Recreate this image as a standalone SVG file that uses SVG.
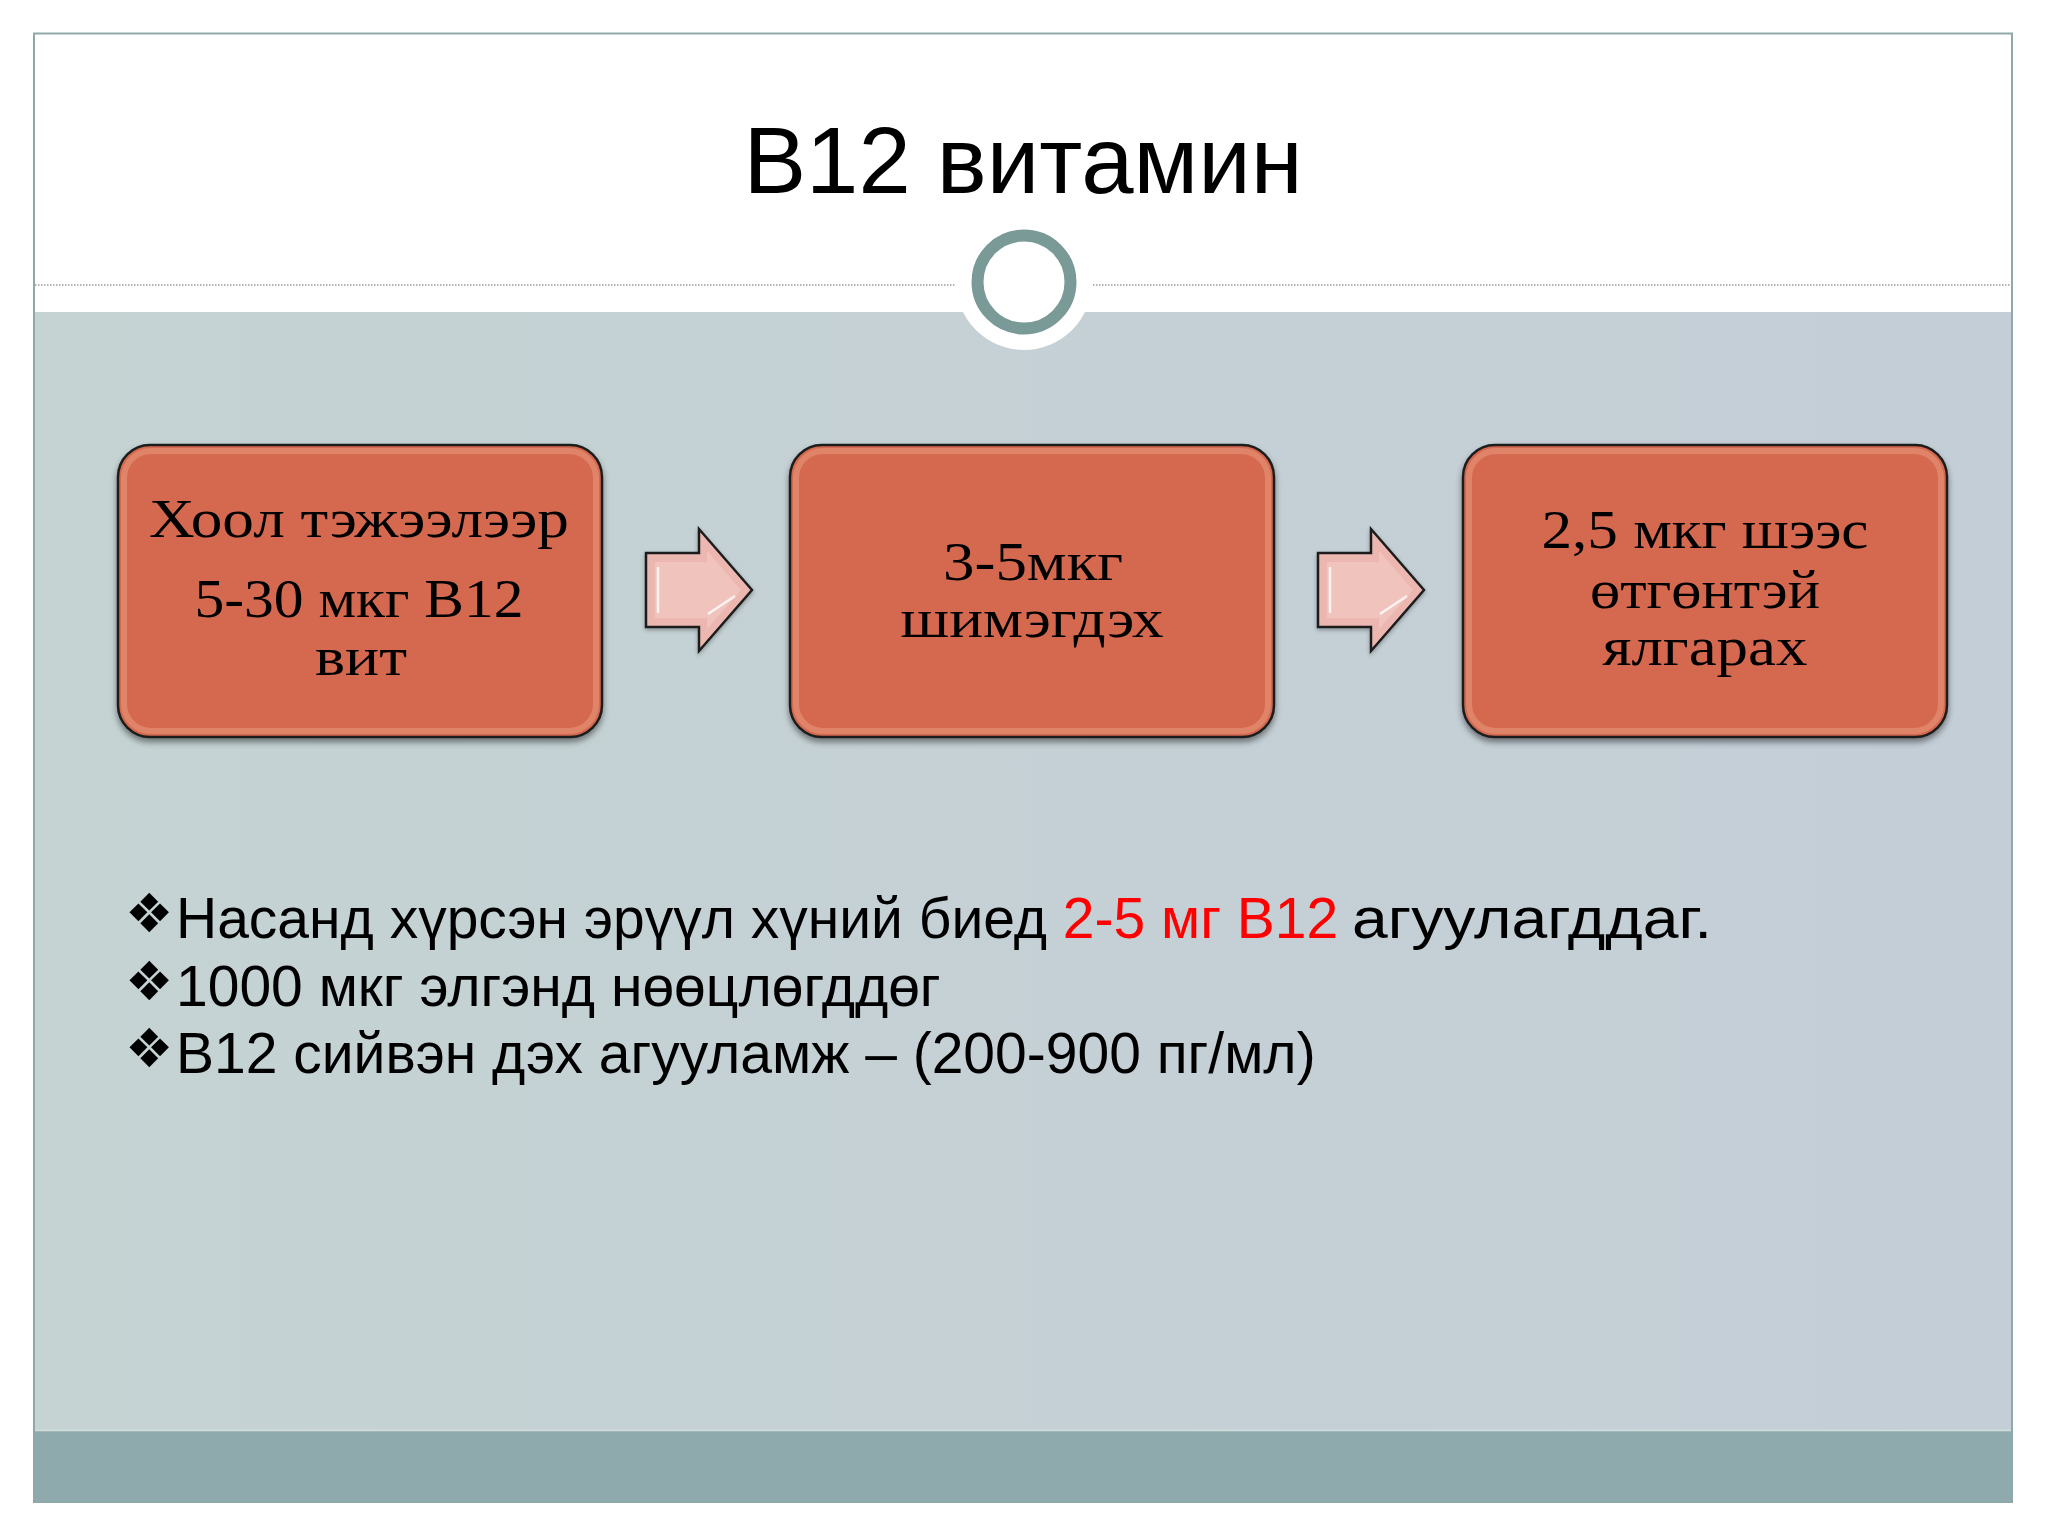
<svg xmlns="http://www.w3.org/2000/svg" width="2048" height="1536" viewBox="0 0 2048 1536">
<defs>
<linearGradient id="bg" x1="0" y1="0" x2="1" y2="0">
<stop offset="0" stop-color="#C5D3D3"/>
<stop offset="1" stop-color="#C4CED7"/>
</linearGradient>
<linearGradient id="hl" x1="0" y1="0" x2="0" y2="1">
<stop offset="0" stop-color="#FFFFFF" stop-opacity="0"/>
<stop offset="0.12" stop-color="#FFFFFF" stop-opacity="0.9"/>
<stop offset="0.88" stop-color="#FFFFFF" stop-opacity="0.9"/>
<stop offset="1" stop-color="#FFFFFF" stop-opacity="0"/>
</linearGradient>
<filter id="sh" x="-10%" y="-10%" width="120%" height="130%">
<feDropShadow dx="0" dy="4" stdDeviation="3" flood-color="#000" flood-opacity="0.45"/>
</filter>
<filter id="ash" x="-20%" y="-20%" width="140%" height="140%">
<feDropShadow dx="0" dy="2" stdDeviation="2" flood-color="#000" flood-opacity="0.3"/>
</filter>
</defs>
<style>
.box{fill:#D5694F;stroke:#1E1E1E;stroke-width:2.5}
.bevel{fill:none;stroke:#E89A80;stroke-width:6;opacity:0.55}
.hline{stroke:url(#hl);stroke-width:4;stroke-linecap:round}
.bt{font-family:"Liberation Serif","Times New Roman",serif;font-size:55px;fill:#000;text-anchor:middle}
.arrow{fill:#ECB7B0;stroke:#1E1E1E;stroke-width:2.5;stroke-linejoin:miter}
.ain{fill:#F0C3BD;stroke:none}
.bul{font-family:"Liberation Sans",Arial,sans-serif;font-size:57px;fill:#000}
.dia{font-family:"DejaVu Sans",sans-serif;font-size:54px;fill:#000}
.red{fill:#FF0000}
.dot{stroke:#9A9A9A;stroke-width:1.5;stroke-dasharray:1.5 1.5}
</style>

<!-- slide background -->
<rect x="0" y="0" width="2048" height="1536" fill="#FFFFFF"/>
<rect x="34" y="312" width="1978" height="1118" fill="url(#bg)"/>
<rect x="34" y="1430" width="1978" height="72" fill="#8EAAAD"/>
<line x1="34" y1="1430.5" x2="2012" y2="1430.5" stroke="#D5DEDF" stroke-width="1.5"/>
<rect x="34" y="33.5" width="1978" height="1468.5" fill="none" stroke="#8FA9A7" stroke-width="2"/>
<line class="dot" x1="35" y1="285" x2="955" y2="285"/>
<line class="dot" x1="1093" y1="285" x2="2011" y2="285"/>
<circle cx="1024" cy="282" r="68" fill="#FFFFFF"/>
<circle cx="1024" cy="282" r="46.5" fill="#FFFFFF" stroke="#7A9A98" stroke-width="12"/>

<text x="1023" y="193" text-anchor="middle" font-family="'Liberation Sans',Arial,sans-serif" font-size="94" fill="#000">B12 витамин</text>

<g id="connectors">
<g id="arrow1" filter="url(#ash)">
<polygon class="arrow" points="646,553 699,553 699,529 752,590 699,651 699,627 646,627"/>
<polygon class="ain" points="655,562 707,562 707,551 741,590 707,629 707,618 655,618"/>
<line x1="658" y1="567" x2="658" y2="613" stroke="#FFFFFF" stroke-width="2.5" opacity="0.8"/>
<line x1="708" y1="614" x2="735" y2="596" stroke="#FFFFFF" stroke-width="2.5" opacity="0.8"/>
</g>
<g id="arrow2" filter="url(#ash)">
<polygon class="arrow" points="1318,553 1371,553 1371,529 1424,590 1371,651 1371,627 1318,627"/>
<polygon class="ain" points="1327,562 1379,562 1379,551 1413,590 1379,629 1379,618 1327,618"/>
<line x1="1330" y1="567" x2="1330" y2="613" stroke="#FFFFFF" stroke-width="2.5" opacity="0.8"/>
<line x1="1380" y1="614" x2="1407" y2="596" stroke="#FFFFFF" stroke-width="2.5" opacity="0.8"/>
</g>
</g>

<g id="node1">
<rect class="box" x="118" y="445" width="484" height="292" rx="32" filter="url(#sh)"/>
<rect class="bevel" x="124" y="451" width="472" height="280" rx="27"/>
<line class="hline" x1="131" y1="468" x2="131" y2="714"/>
<line class="hline" x1="589" y1="468" x2="589" y2="714"/>
<text class="bt" x="359" y="537" textLength="420" lengthAdjust="spacingAndGlyphs">Хоол тэжээлээр</text>
<text class="bt" x="359" y="617" textLength="329" lengthAdjust="spacingAndGlyphs">5-30 мкг B12</text>
<text class="bt" x="361" y="675" textLength="92" lengthAdjust="spacingAndGlyphs">вит</text>
</g>

<g id="node2">
<rect class="box" x="790" y="445" width="484" height="292" rx="32" filter="url(#sh)"/>
<rect class="bevel" x="796" y="451" width="472" height="280" rx="27"/>
<line class="hline" x1="803" y1="468" x2="803" y2="714"/>
<line class="hline" x1="1261" y1="468" x2="1261" y2="714"/>
<text class="bt" x="1033" y="580" textLength="180" lengthAdjust="spacingAndGlyphs">3-5мкг</text>
<text class="bt" x="1032" y="637" textLength="263" lengthAdjust="spacingAndGlyphs">шимэгдэх</text>
</g>

<g id="node3">
<rect class="box" x="1463" y="445" width="484" height="292" rx="32" filter="url(#sh)"/>
<rect class="bevel" x="1469" y="451" width="472" height="280" rx="27"/>
<line class="hline" x1="1476" y1="468" x2="1476" y2="714"/>
<line class="hline" x1="1934" y1="468" x2="1934" y2="714"/>
<text class="bt" x="1705" y="548" textLength="327" lengthAdjust="spacingAndGlyphs">2,5 мкг шээс</text>
<text class="bt" x="1705" y="608" textLength="230" lengthAdjust="spacingAndGlyphs">өтгөнтэй</text>
<text class="bt" x="1705" y="665" textLength="205" lengthAdjust="spacingAndGlyphs">ялгарах</text>
</g>

<g id="bullets">
<text class="dia" x="125" y="932">❖</text>
<text class="bul" x="176" y="938">Насанд хүрсэн эрүүл хүний биед <tspan class="red">2-5 мг B12</tspan> <tspan x="1352" textLength="360" lengthAdjust="spacingAndGlyphs">агуулагддаг.</tspan></text>
<text class="dia" x="125" y="1000">❖</text>
<text class="bul" x="176" y="1006">1000 мкг элгэнд нөөцлөгддөг</text>
<text class="dia" x="125" y="1067">❖</text>
<text class="bul" x="176" y="1073">B12 сийвэн дэх агууламж – (200-900 пг/мл)</text>
</g>
</svg>
